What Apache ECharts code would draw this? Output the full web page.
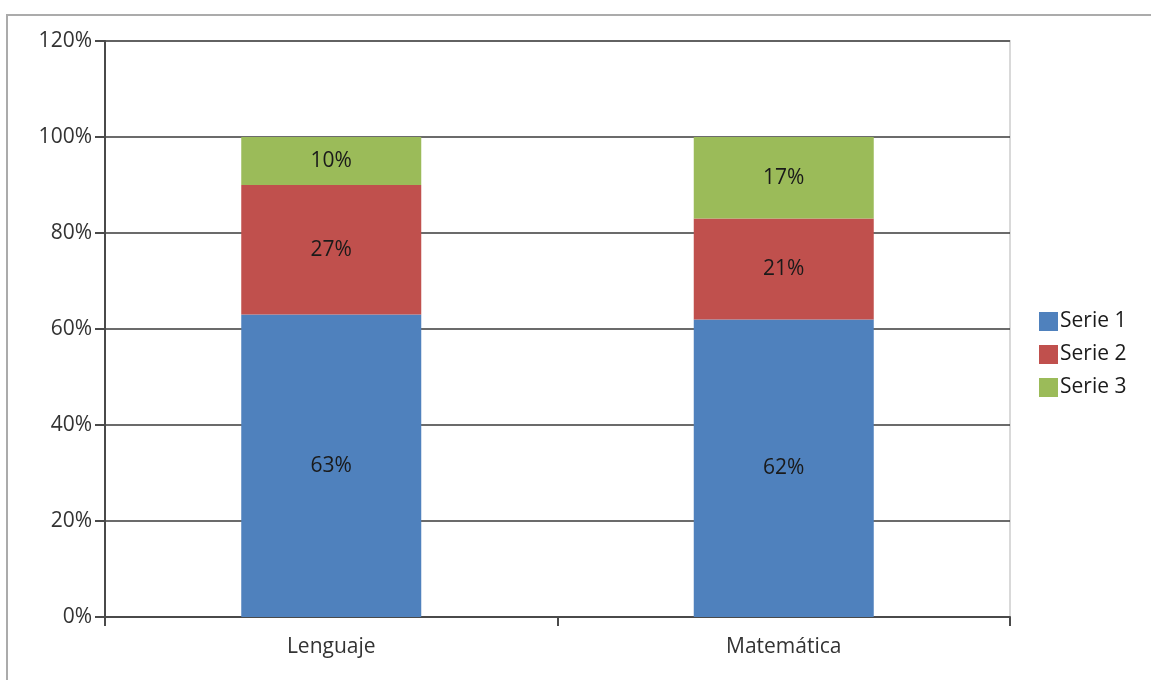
<!DOCTYPE html>
<html>
<head>
<meta charset="utf-8">
<script src="https://cdn.jsdelivr.net/npm/echarts@6/dist/echarts.min.js"></script>
<style>
html,body{margin:0;padding:0;background:#fff;}
#chart{width:1151px;height:680px;}
</style>
</head>
<body>
<div id="chart"></div>
<script>
const categories = ['Lenguaje', 'Matemática'];
const serie1 = [63, 62];
const serie2 = [27, 21];
const serie3 = [10, 17];
const seriesNames = ['Serie 1', 'Serie 2', 'Serie 3'];
const colors = ['#4F81BD', '#C0504D', '#9BBB59'];

const font = 'Open Sans';
const chart = echarts.init(document.getElementById('chart'));
const mk = (name, data, color) => ({
  name: name,
  type: 'bar',
  stack: 'total',
  data: data,
  barWidth: 180,
  itemStyle: { color: color },
  label: {
    show: true,
    position: 'inside',
    formatter: '{c}%',
    color: '#1a1a1a',
    fontFamily: font,
    fontSize: 21
  }
});
chart.setOption({
  animation: false,
  backgroundColor: '#fff',
  color: colors,
  graphic: [{
    type: 'rect',
    shape: { x: 7, y: 15, width: 1160, height: 700 },
    style: { fill: 'none', stroke: '#ababab', lineWidth: 2 },
    silent: true
  }],
  grid: {
    left: 105, top: 41, right: 141, bottom: 63,
    show: true, borderColor: '#d9d9d9', borderWidth: 2
  },
  legend: {
    orient: 'vertical',
    left: 1034,
    top: 306,
    itemWidth: 19,
    itemHeight: 19,
    itemGap: 12,
    icon: 'rect',
    textStyle: { fontFamily: font, fontSize: 21, color: '#1a1a1a', padding: [0, 0, 0, -3] },
    data: seriesNames
  },
  xAxis: {
    type: 'category',
    data: categories,
    axisLine: { lineStyle: { color: '#4a4a4a', width: 2 } },
    axisTick: { show: true, length: 9, alignWithLabel: false, lineStyle: { color: '#4a4a4a', width: 2 } },
    axisLabel: { fontFamily: font, fontSize: 21, color: '#333', margin: 20 }
  },
  yAxis: {
    type: 'value',
    min: 0, max: 120, interval: 20,
    axisLine: { show: true, lineStyle: { color: '#4a4a4a', width: 2 } },
    axisTick: { show: true, length: 10, lineStyle: { color: '#4a4a4a', width: 2 } },
    axisLabel: { formatter: '{value}%', fontFamily: font, fontSize: 21, color: '#333', margin: 13 },
    splitLine: { show: true, lineStyle: { color: '#3a3a3a', width: 1.6 } }
  },
  series: [
    mk(seriesNames[0], serie1, colors[0]),
    mk(seriesNames[1], serie2, colors[1]),
    mk(seriesNames[2], serie3, colors[2])
  ]
});
</script>
</body>
</html>
